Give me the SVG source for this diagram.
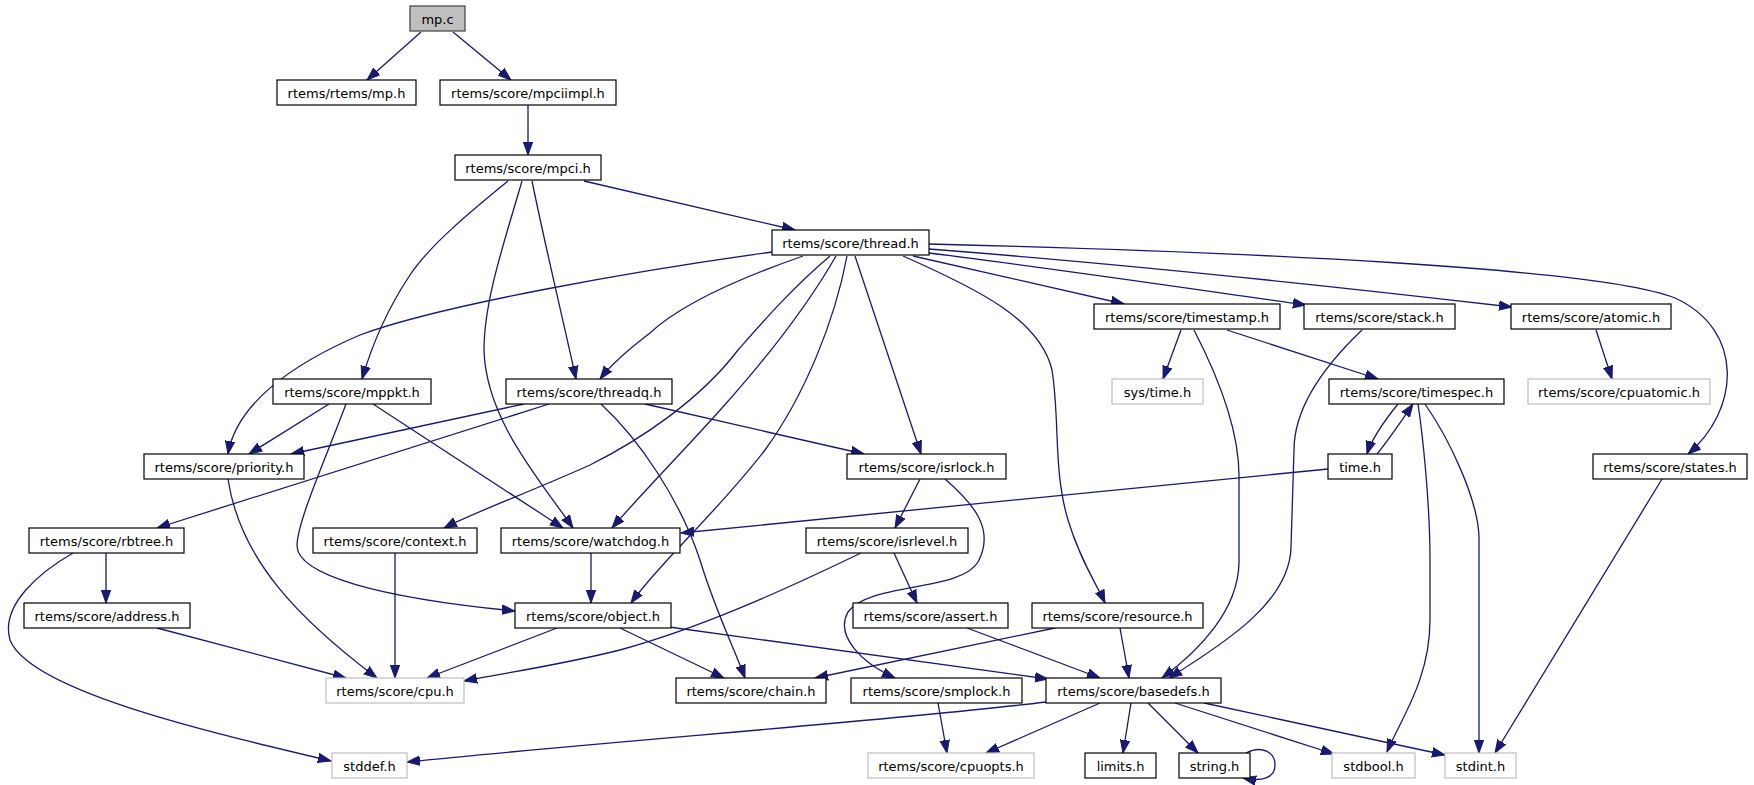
<svg xmlns="http://www.w3.org/2000/svg" width="1754" height="785" viewBox="0 0 1754 785">
<style>
.n rect{fill:#fff;stroke:#000;stroke-width:1.2}
.n.g rect{stroke:#bfbfbf}
.n.r rect{fill:#bfbfbf;stroke:#404040}
.n text{font-family:"DejaVu Sans",sans-serif;font-size:13px;text-anchor:middle;fill:#000}
.e path{fill:none;stroke:#191970;stroke-width:1.3;marker-end:url(#a)}
</style>
<defs>
<marker id="a" markerUnits="userSpaceOnUse" markerWidth="14" markerHeight="11" refX="13" refY="5.5" orient="auto" viewBox="0 0 14 11">
<path d="M0,0.8 L13,5.5 L0,10.2 z" fill="#191970" stroke="#191970" stroke-width="1"/>
</marker>
</defs>
<rect width="1754" height="785" fill="#fff"/>
<g id="edges" class="e">
<path d="M421,32 L367,80"/>
<path d="M453,32 L511,80"/>
<path d="M528,105 L528,155"/>
<path d="M584,181 L795,230"/>
<path d="M508,181 C470,212 430,245 410,275 C388,308 372,345 362,379"/>
<path d="M532,181 C545,245 562,315 576,379"/>
<path d="M522,181 C505,240 484,300 484,350 C486,420 540,480 573,528"/>
<path d="M772,252 C640,270 440,305 360,335 C290,365 236,405 228,454"/>
<path d="M803,256 C740,278 680,305 650,333 C625,352 610,366 600,379"/>
<path d="M830,256 C790,290 760,325 738,350 C700,400 640,440 590,465 C530,492 475,512 444,528"/>
<path d="M836,256 C805,310 765,360 722,408 C680,455 640,495 612,528"/>
<path d="M847,256 C835,320 805,395 765,450 C715,515 660,562 631,603"/>
<path d="M855,256 L921,454"/>
<path d="M903,256 C980,290 1040,320 1052,370 C1060,420 1053,470 1068,520 C1080,560 1097,585 1105,603"/>
<path d="M913,256 L1124,304"/>
<path d="M929,253 C1050,268 1200,290 1306,305"/>
<path d="M929,249 C1150,266 1400,294 1512,307"/>
<path d="M929,244 C1250,252 1600,268 1675,298 C1745,330 1740,410 1688,454"/>
<path d="M1181,330 L1163,379"/>
<path d="M1227,330 L1378,379"/>
<path d="M1194,330 C1225,390 1240,440 1239,480 L1239,563 C1238,610 1200,650 1162,678"/>
<path d="M1362,330 C1320,370 1294,410 1294,450 L1291,547 C1290,600 1230,640 1169,678"/>
<path d="M1596,330 L1612,379"/>
<path d="M1398,404 C1385,420 1372,438 1367,454"/>
<path d="M1377,454 C1390,438 1402,420 1413,404"/>
<path d="M1418,404 C1422,430 1430,500 1430,560 L1430,620 C1430,680 1400,720 1387,752"/>
<path d="M1425,404 C1450,440 1478,500 1479,537 L1479,753"/>
<path d="M1662,479 L1495,753"/>
<path d="M1328,469 L681,533"/>
<path d="M329,404 L249,454"/>
<path d="M346,404 C325,460 298,520 297,545 C296,575 380,598 515,611"/>
<path d="M373,404 L563,528"/>
<path d="M524,404 L291,454"/>
<path d="M549,404 L157,528"/>
<path d="M601,404 C640,440 680,500 700,560 C715,610 735,650 745,678"/>
<path d="M645,404 L864,454"/>
<path d="M228,479 C240,560 300,620 377,678"/>
<path d="M106,553 L106,603"/>
<path d="M73,553 C40,572 0,605 10,640 C30,690 200,730 331,761"/>
<path d="M157,628 L346,678"/>
<path d="M395,553 L395,678"/>
<path d="M591,553 L591,603"/>
<path d="M920,479 L895,528"/>
<path d="M945,479 C975,505 995,530 978,562 C960,592 870,582 848,612 C835,635 860,662 895,678"/>
<path d="M894,553 L917,603"/>
<path d="M861,553 C780,592 700,628 620,650 C560,665 510,672 464,681"/>
<path d="M557,628 L427,678"/>
<path d="M620,628 L724,678"/>
<path d="M669,627 L1048,679"/>
<path d="M967,628 L1100,678"/>
<path d="M1055,628 L815,678"/>
<path d="M1120,628 L1129,678"/>
<path d="M938,703 L947,753"/>
<path d="M1046,702 C900,720 600,742 407,762"/>
<path d="M1100,703 L986,753"/>
<path d="M1131,703 L1123,753"/>
<path d="M1148,703 L1198,753"/>
<path d="M1175,703 L1334,754"/>
<path d="M1204,703 L1445,755"/>
<path d="M1246,753 C1262,745 1275,752 1275,765 C1275,778 1262,782 1243,778"/>
</g>
<g id="n_mp_c" class="n r"><rect x="410" y="6" width="55" height="25"/><text x="437.5" y="23.5">mp.c</text></g>
<g id="n_mp_h" class="n"><rect x="277" y="80" width="139" height="25"/><text x="346.5" y="97.5">rtems/rtems/mp.h</text></g>
<g id="n_mpciimpl" class="n"><rect x="440" y="80" width="176" height="25"/><text x="528" y="97.5">rtems/score/mpciimpl.h</text></g>
<g id="n_mpci" class="n"><rect x="455" y="155" width="146" height="25"/><text x="528" y="172.5">rtems/score/mpci.h</text></g>
<g id="n_thread" class="n"><rect x="772" y="230" width="157" height="25"/><text x="850.5" y="247.5">rtems/score/thread.h</text></g>
<g id="n_timestamp" class="n"><rect x="1094" y="304" width="186" height="25"/><text x="1187" y="321.5">rtems/score/timestamp.h</text></g>
<g id="n_stack" class="n"><rect x="1304" y="304" width="151" height="25"/><text x="1379.5" y="321.5">rtems/score/stack.h</text></g>
<g id="n_atomic" class="n"><rect x="1511" y="304" width="160" height="25"/><text x="1591" y="321.5">rtems/score/atomic.h</text></g>
<g id="n_mppkt" class="n"><rect x="273" y="379" width="158" height="25"/><text x="352" y="396.5">rtems/score/mppkt.h</text></g>
<g id="n_threadq" class="n"><rect x="506" y="379" width="166" height="25"/><text x="589" y="396.5">rtems/score/threadq.h</text></g>
<g id="n_systime" class="n g"><rect x="1112" y="379" width="91" height="25"/><text x="1157.5" y="396.5">sys/time.h</text></g>
<g id="n_timespec" class="n"><rect x="1329" y="379" width="175" height="25"/><text x="1416.5" y="396.5">rtems/score/timespec.h</text></g>
<g id="n_cpuatomic" class="n g"><rect x="1528" y="379" width="182" height="25"/><text x="1619" y="396.5">rtems/score/cpuatomic.h</text></g>
<g id="n_priority" class="n"><rect x="144" y="454" width="160" height="25"/><text x="224" y="471.5">rtems/score/priority.h</text></g>
<g id="n_isrlock" class="n"><rect x="847" y="454" width="159" height="25"/><text x="926.5" y="471.5">rtems/score/isrlock.h</text></g>
<g id="n_time" class="n"><rect x="1328" y="454" width="64" height="25"/><text x="1360" y="471.5">time.h</text></g>
<g id="n_states" class="n"><rect x="1593" y="454" width="154" height="25"/><text x="1670" y="471.5">rtems/score/states.h</text></g>
<g id="n_rbtree" class="n"><rect x="29" y="528" width="155" height="25"/><text x="106.5" y="545.5">rtems/score/rbtree.h</text></g>
<g id="n_context" class="n"><rect x="313" y="528" width="164" height="25"/><text x="395" y="545.5">rtems/score/context.h</text></g>
<g id="n_watchdog" class="n"><rect x="501" y="528" width="179" height="25"/><text x="590.5" y="545.5">rtems/score/watchdog.h</text></g>
<g id="n_isrlevel" class="n"><rect x="806" y="528" width="162" height="25"/><text x="887" y="545.5">rtems/score/isrlevel.h</text></g>
<g id="n_address" class="n"><rect x="24" y="603" width="166" height="25"/><text x="107" y="620.5">rtems/score/address.h</text></g>
<g id="n_object" class="n"><rect x="515" y="603" width="156" height="25"/><text x="593" y="620.5">rtems/score/object.h</text></g>
<g id="n_assert" class="n"><rect x="853" y="603" width="155" height="25"/><text x="930.5" y="620.5">rtems/score/assert.h</text></g>
<g id="n_resource" class="n"><rect x="1032" y="603" width="171" height="25"/><text x="1117.5" y="620.5">rtems/score/resource.h</text></g>
<g id="n_cpu" class="n g"><rect x="326" y="678" width="138" height="25"/><text x="395" y="695.5">rtems/score/cpu.h</text></g>
<g id="n_chain" class="n"><rect x="676" y="678" width="150" height="25"/><text x="751" y="695.5">rtems/score/chain.h</text></g>
<g id="n_smplock" class="n"><rect x="851" y="678" width="171" height="25"/><text x="936.5" y="695.5">rtems/score/smplock.h</text></g>
<g id="n_basedefs" class="n"><rect x="1046" y="678" width="175" height="25"/><text x="1133.5" y="695.5">rtems/score/basedefs.h</text></g>
<g id="n_stddef" class="n g"><rect x="332" y="753" width="75" height="25"/><text x="369.5" y="770.5">stddef.h</text></g>
<g id="n_cpuopts" class="n g"><rect x="868" y="753" width="166" height="25"/><text x="951" y="770.5">rtems/score/cpuopts.h</text></g>
<g id="n_limits" class="n"><rect x="1085" y="753" width="71" height="25"/><text x="1120.5" y="770.5">limits.h</text></g>
<g id="n_string" class="n"><rect x="1179" y="753" width="71" height="25"/><text x="1214.5" y="770.5">string.h</text></g>
<g id="n_stdbool" class="n g"><rect x="1332" y="753" width="83" height="25"/><text x="1373.5" y="770.5">stdbool.h</text></g>
<g id="n_stdint" class="n g"><rect x="1445" y="753" width="71" height="25"/><text x="1480.5" y="770.5">stdint.h</text></g>
</svg>
